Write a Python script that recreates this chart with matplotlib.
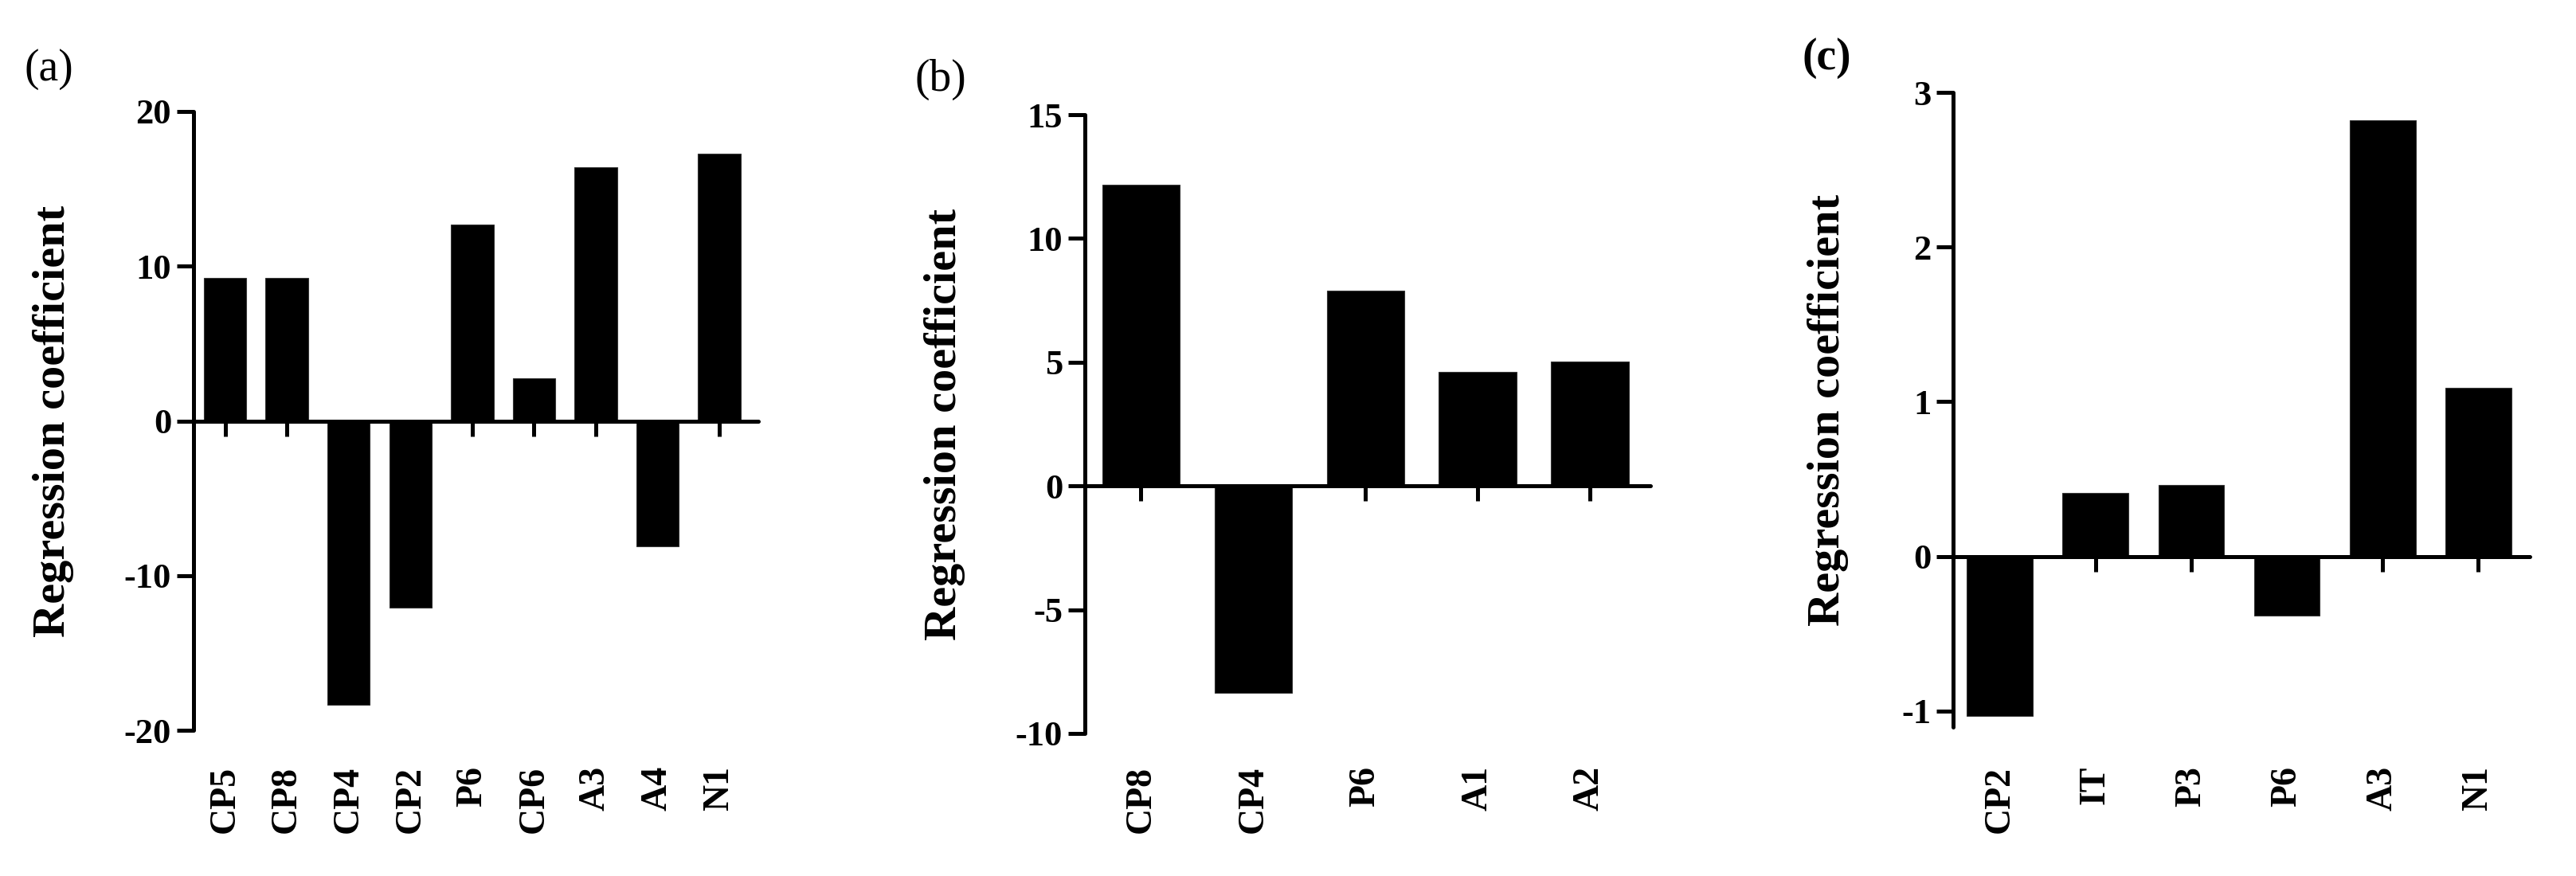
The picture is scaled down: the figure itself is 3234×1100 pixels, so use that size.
import matplotlib
matplotlib.use("Agg")
import matplotlib.pyplot as plt
from matplotlib.transforms import blended_transform_factory

plt.rcParams["font.family"] = ["Liberation Serif", "DejaVu Serif"]
plt.rcParams["axes.unicode_minus"] = False

# panel (a)
labels_a = ["CP5", "CP8", "CP4", "CP2", "P6", "CP6", "A3", "A4", "N1"]
coef_a = [9.25, 9.25, -18.35, -12.07, 12.71, 2.73, 16.40, -8.13, 17.27]
yticks_a = [-20, -10, 0, 10, 20]

# panel (b)
labels_b = ["CP8", "CP4", "P6", "A1", "A2"]
coef_b = [12.18, -8.37, 7.89, 4.61, 5.02]
yticks_b = [-10, -5, 0, 5, 10, 15]

# panel (c)
labels_c = ["CP2", "IT", "P3", "P6", "A3", "N1"]
coef_c = [-1.03, 0.41, 0.46, -0.38, 2.82, 1.09]
yticks_c = [-1, 0, 1, 2, 3]

W, H = 3234, 1100
fig = plt.figure(figsize=(W / 100, H / 100), dpi=100)

# layout in pixels: left, top, right, bottom
panels = [
    dict(box=(243, 140, 952, 917), labels=labels_a, vals=coef_a, yticks=yticks_a,
         ylim=(-20, 20), xlim=(-0.51, 8.63), tag="(a)", tag_xy=(61, 87),
         tag_bold=False, ylab_x=-0.248),
    dict(box=(1362, 144, 2072, 921), labels=labels_b, vals=coef_b, yticks=yticks_b,
         ylim=(-10, 15), xlim=(-0.50, 4.54), tag="(b)", tag_xy=(1181, 100),
         tag_bold=False, ylab_x=-0.248),
    dict(box=(2452, 116, 3176, 913), labels=labels_c, vals=coef_c, yticks=yticks_c,
         ylim=(-1.103, 3), xlim=(-0.49, 5.54), tag="(c)", tag_xy=(2293, 73),
         tag_bold=True, ylab_x=-0.217),
]

for p in panels:
    l, t, r, b = p["box"]
    ax = fig.add_axes([l / W, (H - b) / H, (r - l) / W, (b - t) / H])
    x = list(range(len(p["labels"])))
    ax.bar(x, p["vals"], width=0.69, color="black", edgecolor="#333333", linewidth=0.8)
    ax.set_xlim(*p["xlim"])
    ax.set_ylim(*p["ylim"])
    ax.set_yticks(p["yticks"])
    ax.set_xticks(x)
    ax.tick_params(axis="x", labelbottom=False, direction="out", length=14, width=3.6)
    ax.tick_params(axis="y", direction="out", length=15, width=3.6, pad=5, labelsize=32)
    for lab in ax.get_yticklabels():
        lab.set_fontweight("bold")
    for s in ["top", "right"]:
        ax.spines[s].set_visible(False)
    ax.spines["bottom"].set_position(("data", 0))
    for s in ["left", "bottom"]:
        ax.spines[s].set_linewidth(3.6)
        ax.spines[s].set_capstyle("round")

    trans = blended_transform_factory(ax.transData, fig.transFigure)
    for xi, lab in zip(x, p["labels"]):
        ax.text(xi, 1 - 962 / H, lab, transform=trans, rotation=90, ha="center",
                va="top", fontsize=33, fontweight="bold")

    ax.set_ylabel("Regression coefficient", fontsize=42, fontweight="bold", va="center")
    ax.yaxis.set_label_coords(p["ylab_x"], 0.5)

    tx, ty = p["tag_xy"]
    fig.text(tx / W, 1 - ty / H, p["tag"], ha="center", va="center", fontsize=40,
             fontweight="bold" if p["tag_bold"] else "normal")

fig.savefig("out.png", dpi=100, facecolor="white")
